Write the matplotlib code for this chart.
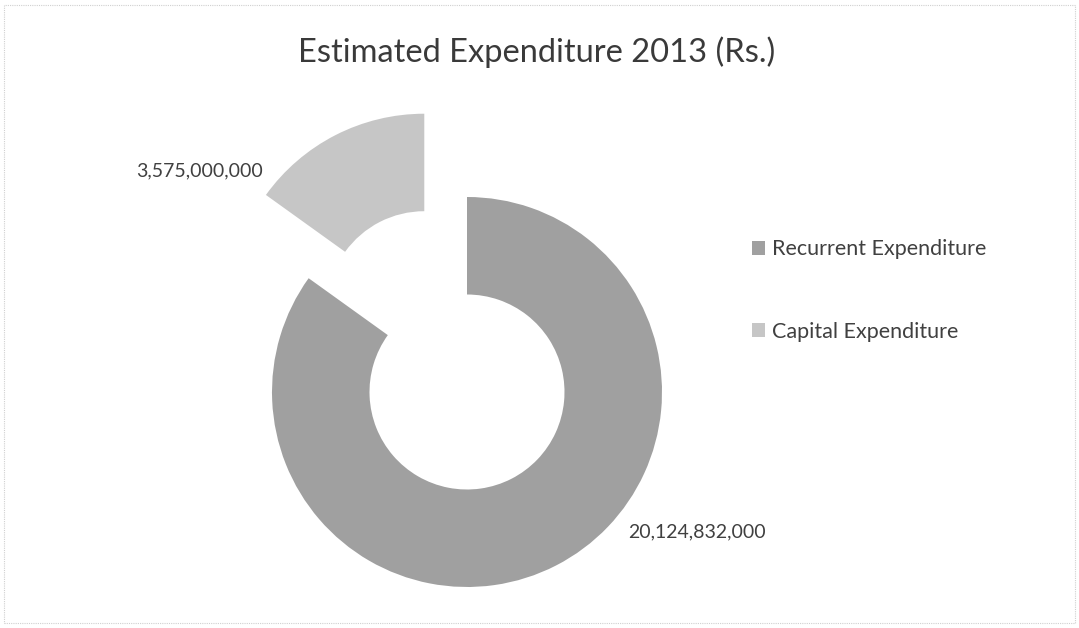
import matplotlib
matplotlib.use("Agg")
import matplotlib.pyplot as plt
from matplotlib.patches import Rectangle

# ---- data ----
categories = ["Recurrent Expenditure", "Capital Expenditure"]
values = [20124832000, 3575000000]
value_labels = ["20,124,832,000", "3,575,000,000"]
title = "Estimated Expenditure 2013 (Rs.)"

colors = ["#a0a0a0", "#c6c6c6"]
explode = [0.0, 0.48]

W, H = 1079, 628
fig = plt.figure(figsize=(W / 100, H / 100), dpi=100)
fig.patch.set_facecolor("white")

def fx(x):
    return x / W

def fy(y):
    return 1 - y / H

# pie axes in unit coordinates, 1 unit = R pixels
cx, cy, R = 467, 392, 195
ax = fig.add_axes([0, 0, 1, 1])
wedges, _ = ax.pie(values, colors=colors, startangle=90, counterclock=False,
                   explode=explode, radius=1.0,
                   wedgeprops=dict(width=0.5, edgecolor="none"))
ax.set_xlim(-cx / R, (W - cx) / R)
ax.set_ylim(-(H - cy) / R, cy / R)
ax.set_aspect("equal")
ax.axis("off")

# border
fig.patches.append(Rectangle((fx(4), fy(623)), fx(1071), fy(5) - fy(623),
                             transform=fig.transFigure, fill=False,
                             edgecolor="#d0d0d0", linewidth=0.8, linestyle=(0, (1, 1))))

fam = ["Lato", "DejaVu Sans"]
fig.text(fx(537), fy(52), title, ha="center", va="center", fontsize=23.5,
         color="#3a3a3a", family=fam)

fig.text(fx(263), fy(171), value_labels[1], ha="right", va="center", fontsize=14,
         color="#404040", family=fam)
fig.text(fx(628), fy(532), value_labels[0], ha="left", va="center", fontsize=14,
         color="#404040", family=fam)

leg = ax.legend(wedges, categories, loc="upper left",
                bbox_to_anchor=(fx(733), fy(220)), bbox_transform=fig.transFigure,
                frameon=False, labelspacing=2.9, handlelength=0.6, handleheight=0.6,
                handletextpad=0.3, prop=dict(family=fam, size=15.5))
for t in leg.get_texts():
    t.set_color("#404040")

fig.savefig("out.png", dpi=100)
